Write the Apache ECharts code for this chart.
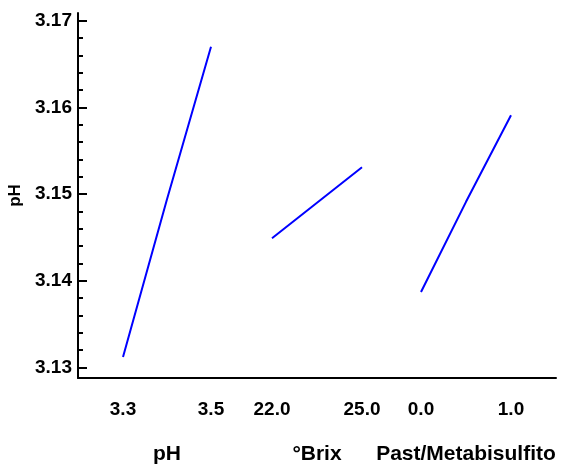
<!DOCTYPE html>
<html><head><meta charset="utf-8">
<script src="https://cdn.jsdelivr.net/npm/echarts@6/dist/echarts.min.js"></script>
<style>html,body{margin:0;padding:0;background:#fff}#c{width:565px;height:465px}</style>
</head><body><div id="c"></div>
<script>
// ---- data ----
const factorNames = ['pH', '°Brix', 'Past/Metabisulfito'];
const phX = [3.3, 3.4, 3.5];
const phY = [3.1312, 3.1494, 3.1670];
const brixX = [22.0, 23.5, 25.0];
const brixY = [3.1449, 3.1490, 3.1531];
const pastX = [0.0, 0.5, 1.0];
const pastY = [3.1387, 3.1491, 3.1591];
const phTicks = [3.3, 3.5];
const brixTicks = [22.0, 25.0];
const pastTicks = [0.0, 1.0];
const yTicks = [3.13, 3.14, 3.15, 3.16, 3.17];
const yMinorTicks = [3.132, 3.134, 3.136, 3.138, 3.142, 3.144, 3.146, 3.148,
  3.152, 3.154, 3.156, 3.158, 3.162, 3.164, 3.166, 3.168];
const yName = 'pH';
const yMin = 3.12877, yMax = 3.17089;

// ---- layout / style ----
const FONT = "'Liberation Sans', Arial, sans-serif";
const factors = [
  {x: phX, y: phY, ticks: phTicks, left: 123, width: 88},
  {x: brixX, y: brixY, ticks: brixTicks, left: 272, width: 90},
  {x: pastX, y: pastY, ticks: pastTicks, left: 421, width: 90}
];
const TOP = 13, BOTTOM = 87;
const grids = [{left: 78, right: 9, top: TOP, bottom: BOTTOM, containLabel: false, outerBoundsMode: 'none'}];
const xAxes = [{
  gridIndex: 0, type: 'value', min: 0, max: 1,
  axisLine: {show: true, lineStyle: {color: '#000', width: 2}},
  axisTick: {show: false}, axisLabel: {show: false}, splitLine: {show: false}
}];
const yAxes = [{
  gridIndex: 0, type: 'value', min: yMin, max: yMax, position: 'left',
  axisLine: {show: true, lineStyle: {color: '#000', width: 2}},
  axisTick: {show: true, inside: true, length: 9, customValues: yTicks, lineStyle: {color: '#000', width: 2}},
  axisLabel: {show: true, customValues: yTicks, margin: 6, color: '#000', fontFamily: FONT,
    fontWeight: 'bold', fontSize: 19, formatter: v => Number(v).toFixed(2)},
  splitLine: {show: false},
  name: yName, nameLocation: 'middle', nameRotate: 90, nameGap: 45,
  nameTextStyle: {color: '#000', fontFamily: FONT, fontWeight: 'bold', fontSize: 17}
}, {
  gridIndex: 0, type: 'value', min: yMin, max: yMax, position: 'left', offset: 0,
  axisLine: {show: false},
  axisTick: {show: true, inside: true, length: 5, customValues: yMinorTicks, lineStyle: {color: '#000', width: 2}},
  axisLabel: {show: false}, splitLine: {show: false}
}];
const series = [];
factors.forEach((f, i) => {
  const gi = i + 1;
  grids.push({left: f.left, width: f.width, top: TOP, bottom: BOTTOM, containLabel: false, outerBoundsMode: 'none'});
  xAxes.push({
    gridIndex: gi, type: 'value', min: f.ticks[0], max: f.ticks[f.ticks.length - 1],
    axisLine: {show: false}, axisTick: {show: false}, splitLine: {show: false},
    axisLabel: {show: true, customValues: f.ticks, margin: 22, color: '#000', fontFamily: FONT,
      fontWeight: 'bold', fontSize: 19, formatter: v => Number(v).toFixed(1)},
    name: factorNames[i], nameLocation: 'middle', nameGap: 66,
    nameTextStyle: {color: '#000', fontFamily: FONT, fontWeight: 'bold', fontSize: 21}
  });
  yAxes.push({gridIndex: gi, type: 'value', min: yMin, max: yMax, show: false});
  series.push({
    type: 'line', xAxisIndex: xAxes.length - 1, yAxisIndex: yAxes.length - 1,
    data: f.x.map((v, k) => [v, f.y[k]]),
    showSymbol: false, symbol: 'none',
    lineStyle: {color: '#0000ff', width: 2}
  });
});
const chart = echarts.init(document.getElementById('c'), null, {renderer: 'canvas'});
chart.setOption({
  animation: false,
  backgroundColor: '#fff',
  grid: grids, xAxis: xAxes, yAxis: yAxes, series: series
});
</script>
</body></html>
